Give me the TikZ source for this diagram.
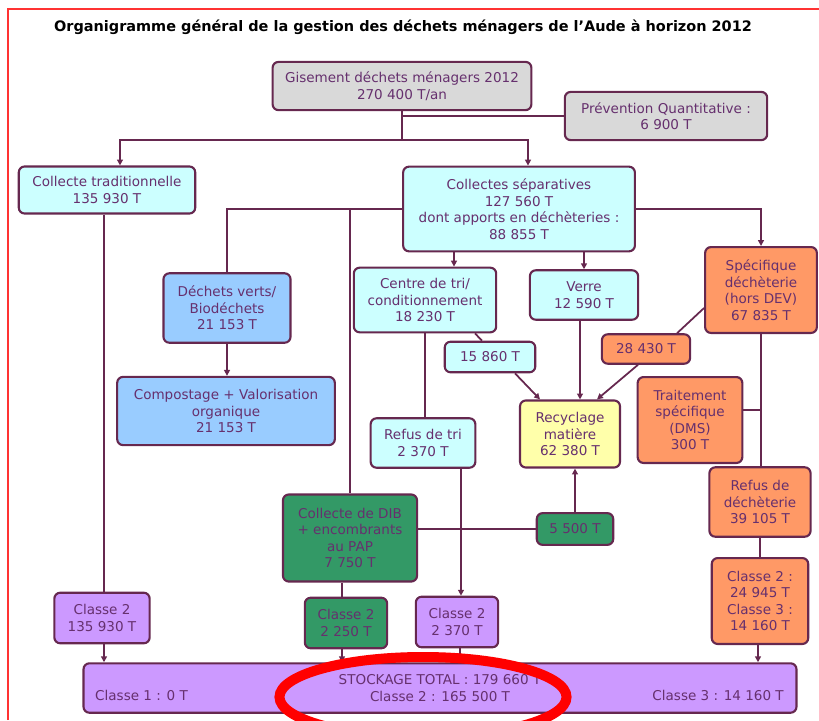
\documentclass[tikz,border=0pt]{standalone}
\usepackage{fontspec}
\setmainfont{DejaVu Sans}
\usepackage{tikz}
\usetikzlibrary{arrows.meta,calc}
\definecolor{brd}{HTML}{66284F}
\definecolor{txt}{HTML}{66306E}
\definecolor{gris}{HTML}{D9D9D9}
\definecolor{cyanc}{HTML}{CCFFFF}
\definecolor{bleu}{HTML}{99CCFF}
\definecolor{lila}{HTML}{CC99FF}
\definecolor{jaune}{HTML}{FFFFAA}
\definecolor{orng}{HTML}{FF9966}
\definecolor{vert}{HTML}{339966}
\definecolor{cadre}{HTML}{FF3333}
\tikzset{
  >={Triangle[length=5pt,width=5pt]},
  box/.style={draw=brd, line width=1.8pt, rounded corners=5pt, align=center, text=txt,
              font=\fontsize{11.5}{14}\selectfont, inner sep=2pt},
  grisbox/.style={box, fill=gris},
  cyanbox/.style={box, fill=cyanc},
  bleubox/.style={box, fill=bleu},
  lilabox/.style={box, fill=lila},
  jaunebox/.style={box, fill=jaune},
  orngbox/.style={box, fill=orng},
  vertbox/.style={box, fill=vert},
  lab/.style={text=txt, font=\fontsize{11.5}{14}\selectfont, inner sep=0pt},
  l/.style={->, line width=1.5pt, draw=brd},
  ln/.style={line width=1.5pt, draw=brd},
}
\begin{document}
\begin{tikzpicture}[x=0.85pt,y=-0.85pt]
  \useasboundingbox (0,0) rectangle (819,720);
  \clip (0,0) rectangle (819,720);
  \draw[cadre,line width=1.6pt] (8,720) -- (8,9) -- (819,9);
  \node[font=\bfseries\fontsize{12.3}{14}\selectfont] (titre) at (403,27)
    {Organigramme général de la gestion des déchets ménagers de l’Aude à horizon 2012};
  % sources
  \node[grisbox,minimum width=220pt,minimum height=41pt] (gis) at (402,86) {Gisement déchets ménagers 2012\\270 400 T/an};
  \node[grisbox,minimum width=172pt,minimum height=41pt] (prev) at (666,116) {Prévention Quantitative :\\6 900 T};
  \node[cyanbox,minimum width=150pt,minimum height=40pt] (trad) at (107,190) {Collecte traditionnelle\\135 930 T};
  \node[cyanbox,minimum width=197pt,minimum height=72pt] (sep) at (519,209) {Collectes séparatives\\127 560 T\\dont apports en déchèteries :\\88 855 T};
  % filieres
  \node[bleubox,minimum width=108pt,minimum height=59pt] (verts) at (227,308) {Déchets verts/\\Biodéchets\\21 153 T};
  \node[bleubox,minimum width=185pt,minimum height=58pt] (compost) at (226,411) {Compostage + Valorisation\\organique\\21 153 T};
  \node[cyanbox,minimum width=121pt,minimum height=55pt] (tri) at (425,300) {Centre de tri/\\conditionnement\\18 230 T};
  \node[cyanbox,minimum width=92pt,minimum height=42pt] (verre) at (584,295) {Verre\\12 590 T};
  \node[cyanbox,minimum width=77pt,minimum height=26pt] (q15860) at (490,357) {15 860 T};
  \node[orngbox,minimum width=75pt,minimum height=25pt] (q28430) at (646,349) {28 430 T};
  \node[jaunebox,minimum width=85pt,minimum height=57pt] (recyc) at (570,434) {Recyclage\\matière\\62 380 T};
  \node[orngbox,minimum width=95pt,minimum height=73pt] (spec) at (761,290) {Spécifique\\déchèterie\\(hors DEV)\\67 835 T};
  \node[orngbox,minimum width=89pt,minimum height=73pt] (dms) at (690,420) {Traitement\\spécifique\\(DMS)\\300 T};
  \node[orngbox,minimum width=86pt,minimum height=59pt] (refusdech) at (760,502) {Refus de\\déchèterie\\39 105 T};
  \node[orngbox,minimum width=82pt,minimum height=73pt] (cl23) at (760,601) {Classe 2 :\\24 945 T\\Classe 3 :\\14 160 T};
  \node[cyanbox,minimum width=89pt,minimum height=42pt] (refustri) at (423,443) {Refus de tri\\2 370 T};
  \node[vertbox,minimum width=114pt,minimum height=74pt] (dib) at (350,538) {Collecte de DIB\\+ encombrants\\au PAP\\7 750 T};
  \node[vertbox,minimum width=65pt,minimum height=27pt] (q5500) at (575,529) {5 500 T};
  % stockage
  \node[lilabox,minimum width=81pt,minimum height=43pt] (c2a) at (102,618) {Classe 2\\135 930 T};
  \node[vertbox,minimum width=70pt,minimum height=43pt] (c2b) at (346,623) {Classe 2\\2 250 T};
  \node[lilabox,minimum width=70pt,minimum height=43pt] (c2c) at (457,622) {Classe 2\\2 370 T};
  \node[lilabox,minimum width=606pt,minimum height=42pt] (stock) at (440,688) {STOCKAGE TOTAL : 179 660 T\\Classe 2 : 165 500 T};
  \node[lab,anchor=west] (cl1) at (95,695) {Classe 1 : 0 T};
  \node[lab,anchor=east] (cl3) at (784,695) {Classe 3 : 14 160 T};
  % points de passage
  \coordinate (j1) at (402,140);
  \coordinate (ptrad) at ($(trad.north)+(13,0)$);
  \coordinate (psep) at ($(sep.north)+(9,0)$);
  \coordinate (ptri) at ($(tri.north)+(29,0)$);
  \coordinate (pverre) at ($(verre.south)+(-4,0)$);
  \coordinate (pdms) at ($(dms.east)+(0,-10)$);
  \coordinate (pcl23) at ($(cl23.south)+(-2,0)$);
  \coordinate (prefus) at ($(refustri.south)+(38,0)$);
  \coordinate (pc2b) at ($(c2b.north)+(-4,0)$);
  \coordinate (pc2c) at ($(c2c.south)+(3,0)$);
  \coordinate (pc2a) at ($(c2a.north)+(2,0)$);
  % liaisons
  \draw[ln](gis.south)--(j1);
  \draw[ln](prev.west)--(prev.west -| j1);
  \draw[l](j1) -| (ptrad);
  \draw[l](j1) -| (psep);
  \draw[ln](sep.west) -| (verts.north);
  \draw[ln](sep.west -| dib.north)--(dib.north);
  \draw[l](sep.east) -| (spec.north);
  \draw[l](ptri |- sep.south)--(ptri);
  \draw[l](verre.north |- sep.south)--(verre.north);
  \draw[l](verts.south)--(verts.south |- compost.north);
  \draw[ln]($(tri.south)+(50,0)$)--($(q15860.north)+(-8,0)$);
  \draw[l]($(q15860.south)+(25,0)$)--($(recyc.north)+(-30,0)$);
  \draw[l](pverre)--(pverre |- recyc.north);
  \draw[ln]($(spec.west)+(0,18)$)--($(q28430.north)+(31,0)$);
  \draw[l]($(q28430.south)+(-8,0)$)--($(recyc.north)+(27,0)$);
  \draw[ln](spec.south)--(spec.south |- refusdech.north);
  \draw[ln](pdms)--(pdms -| spec.south);
  \draw[ln](refusdech.south)--(refusdech.south |- cl23.north);
  \draw[l](pcl23)--(pcl23 |- stock.north);
  \draw[ln](tri.south)--(tri.south |- refustri.north);
  \draw[l](prefus)--(prefus |- c2c.north);
  \draw[ln](q5500.west -| dib.east)--(q5500.west);
  \draw[l](q5500.north)--(q5500.north |- recyc.south);
  \draw[ln](pc2b |- dib.south)--(pc2b);
  \draw[l](pc2b |- c2b.south)--(pc2b |- stock.north);
  \draw[l](pc2c)--(pc2c |- stock.north);
  \draw[ln](pc2a |- trad.south)--(pc2a);
  \draw[l](pc2a |- c2a.south)--(pc2a |- stock.north);
  % marque rouge
  \draw[red,line width=8.5pt](423,697) ellipse [x radius=122pt,y radius=34pt];
\end{tikzpicture}
\end{document}
